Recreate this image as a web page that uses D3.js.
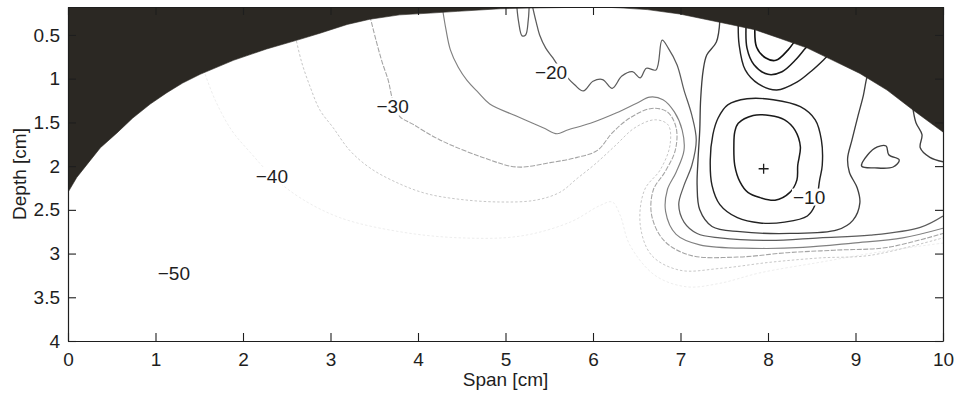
<!DOCTYPE html>
<html>
<head>
<meta charset="utf-8">
<script src="https://cdn.jsdelivr.net/npm/d3@7"></script>
<style>
  body { margin: 0; background: #fff; }
  svg { display: block; font-family: "Liberation Sans", Arial, Helvetica, sans-serif; }
</style>
</head>
<body>
<div id="chart"></div>
<script>
// axis ticks
const spanTicks = [0, 1, 2, 3, 4, 5, 6, 7, 8, 9, 10];
const depthTicks = [0.5, 1, 1.5, 2, 2.5, 3, 3.5, 4];

// edge of the masked (no data) area, [span, depth], left edge to right edge
const maskEdge = [[0,2.30],[0.10,2.13],[0.25,1.94],[0.37,1.79],[0.56,1.62],[0.74,1.45],[0.94,1.29],
  [1.13,1.16],[1.31,1.05],[1.51,0.95],[1.89,0.79],[2.27,0.66],[2.65,0.55],[2.88,0.48],[3.19,0.38],
  [3.45,0.32],[3.79,0.27],[4.14,0.25],[4.45,0.23],[4.94,0.20],[5.39,0.19],[6.08,0.18],[6.31,0.19],
  [6.62,0.21],[6.99,0.26],[7.28,0.32],[7.57,0.38],[7.85,0.44],[8.14,0.54],[8.45,0.65],[8.74,0.79],
  [9.05,0.94],[9.36,1.13],[9.66,1.36],[9.89,1.53],[10,1.61]];

// contour lines, [span, depth]
const loopM5 = [[7.66,1.51],[7.83,1.42],[8.02,1.42],[8.19,1.47],[8.31,1.59],[8.37,1.78],[8.34,1.99],
  [8.33,2.16],[8.25,2.30],[8.08,2.39],[7.91,2.36],[7.77,2.30],[7.68,2.18],[7.62,1.99],[7.61,1.76],[7.62,1.61]];
const loopM10 = [[7.76,1.23],[8.06,1.24],[8.37,1.32],[8.54,1.47],[8.61,1.70],[8.62,1.99],[8.59,2.16],
  [8.54,2.44],[8.45,2.57],[8.19,2.64],[7.91,2.65],[7.65,2.59],[7.45,2.44],[7.36,2.22],[7.34,1.93],
  [7.37,1.64],[7.43,1.45],[7.54,1.30]];
const topM10 = [[7.66,0.36],[7.67,0.61],[7.74,0.90],[7.89,1.06],[8.10,1.13],[8.33,1.04],[8.51,0.90],[8.65,0.77],[8.72,0.70]];
const topM5 = [[7.75,0.38],[7.76,0.65],[7.84,0.84],[8.00,0.95],[8.16,0.92],[8.31,0.79],[8.43,0.65],[8.48,0.60]];
const top0 = [[7.85,0.42],[7.87,0.64],[7.97,0.76],[8.09,0.79],[8.23,0.67],[8.30,0.58],[8.33,0.55]];
const archM15 = [[7.45,0.33],[7.41,0.58],[7.30,0.73],[7.26,0.90],[7.23,1.24],[7.22,1.59],[7.20,1.93],
  [7.19,2.22],[7.22,2.50],[7.36,2.69],[7.68,2.75],[8.25,2.77],[8.79,2.73],[8.97,2.62],[9.05,2.42],
  [9.02,2.25],[8.93,2.07],[8.91,1.91],[8.96,1.70],[9.03,1.42],[9.09,1.19],[9.13,0.99],[9.15,0.95]];
const islandM15 = [[9.07,2.00],[9.14,1.87],[9.25,1.78],[9.35,1.77],[9.38,1.87],[9.50,1.93],[9.43,2.01],[9.22,2.02]];
const edgeM15 = [[9.65,1.30],[9.69,1.50],[9.76,1.64],[9.74,1.79],[9.85,1.90],[10,1.95]];
const lineM20 = [[5.31,0.18],[5.35,0.35],[5.39,0.50],[5.46,0.65],[5.54,0.76],[5.62,0.88],[5.70,0.98],
  [5.79,1.07],[5.89,1.14],[6.00,1.03],[6.11,1.01],[6.22,1.11],[6.33,0.97],[6.45,0.92],[6.54,0.99],
  [6.61,0.88],[6.72,0.90],[6.79,0.56],[6.86,0.65],[6.96,0.84],[7.04,1.13],[7.13,1.42],[7.18,1.70],
  [7.13,1.99],[7.04,2.22],[6.98,2.44],[7.04,2.64],[7.19,2.77],[7.45,2.82],[8.02,2.85],[8.59,2.82],
  [9.17,2.79],[9.74,2.70],[10,2.57]];
const dipM20 = [[5.13,0.18],[5.15,0.35],[5.19,0.51],[5.23,0.50],[5.26,0.33],[5.27,0.18]];
const lineM25 = [[4.28,0.20],[4.32,0.44],[4.37,0.67],[4.46,0.87],[4.56,1.02],[4.69,1.16],[4.82,1.29],
  [5.13,1.43],[5.43,1.56],[5.59,1.63],[5.70,1.59],[5.97,1.51],[6.27,1.39],[6.50,1.28],[6.65,1.21],
  [6.80,1.24],[6.93,1.38],[7.02,1.59],[7.04,1.82],[6.95,2.07],[6.85,2.27],[6.83,2.52],[6.95,2.78],
  [7.22,2.90],[7.83,2.94],[8.40,2.93],[8.97,2.88],[9.54,2.82],[10,2.71]];
const lineM30 = [[3.45,0.28],[3.52,0.56],[3.59,0.81],[3.66,1.02],[3.71,1.24],[3.79,1.43],[3.94,1.52],
  [4.25,1.70],[4.74,1.90],[5.13,2.01],[5.51,1.96],[5.82,1.90],[6.05,1.82],[6.22,1.62],[6.42,1.45],
  [6.67,1.34],[6.85,1.38],[6.95,1.56],[6.94,1.82],[6.82,2.07],[6.69,2.27],[6.67,2.56],[6.81,2.85],
  [7.11,3.02],[7.65,3.04],[8.22,2.99],[8.79,2.96],[9.36,2.93],[10,2.77]];
const lineM35 = [[2.60,0.52],[2.67,0.81],[2.77,1.10],[2.88,1.36],[3.03,1.56],[3.22,1.82],[3.45,2.02],
  [3.74,2.18],[4.08,2.31],[4.48,2.38],[4.94,2.41],[5.34,2.39],[5.62,2.30],[5.82,2.14],[6.02,1.98],
  [6.25,1.77],[6.48,1.56],[6.71,1.47],[6.86,1.53],[6.88,1.76],[6.77,2.04],[6.59,2.27],[6.54,2.67],
  [6.67,3.02],[6.99,3.19],[7.45,3.17],[8.02,3.10],[8.59,3.05],[9.17,3.02],[10,2.82]];
const lineM40 = [[1.55,0.90],[1.68,1.24],[1.87,1.59],[2.08,1.84],[2.33,2.11],[2.65,2.36],[3.11,2.59],
  [3.79,2.75],[4.48,2.82],[5.17,2.80],[5.74,2.64],[6.08,2.45],[6.22,2.41],[6.31,2.56],[6.42,2.90],
  [6.71,3.25],[7.07,3.38],[7.45,3.34],[7.91,3.22],[8.59,3.10],[9.28,2.98],[10,2.88]];

// inline contour labels
const labelLevels = [-10, -20, -30, -40, -50];
const labelSpan = [8.47, 5.52, 3.71, 2.33, 1.21];
const labelDepth = [2.35, 0.92, 1.31, 2.11, 3.22];

// source position marker
const sourcePoint = [7.95, 2.03];

const contours = [
  { level: -40, closed: false, pts: lineM40 },
  { level: -35, closed: false, pts: lineM35 },
  { level: -30, closed: false, pts: lineM30 },
  { level: -25, closed: false, pts: lineM25 },
  { level: -20, closed: false, pts: lineM20 },
  { level: -20, closed: false, pts: dipM20 },
  { level: -15, closed: false, pts: archM15 },
  { level: -15, closed: true, pts: islandM15 },
  { level: -15, closed: false, pts: edgeM15 },
  { level: -10, closed: true, pts: loopM10 },
  { level: -10, closed: false, pts: topM10 },
  { level: -5, closed: false, pts: topM5 },
  { level: 0, closed: false, pts: top0 },
  { level: -5, closed: true, pts: loopM5 }
];

const W = 955, H = 394;
const margin = { top: 7, right: 12, bottom: 53, left: 68 };
const innerW = W - margin.left - margin.right;
const innerH = H - margin.top - margin.bottom;

const x = d3.scaleLinear().domain([0, 10]).range([0, innerW]);
const y = d3.scaleLinear().domain([0.18, 4]).range([0, innerH]);

const strokeColor = d3.scaleLinear()
  .domain([0, -10, -20, -30, -35, -40])
  .range(['#111111', '#222222', '#5c5c5c', '#a4a4a4', '#c6c6c6', '#ebebeb']);
const strokeWidth = d3.scaleLinear().domain([0, -40]).range([1.6, 0.9]);

const svg = d3.select('#chart').append('svg')
  .attr('width', W)
  .attr('height', H);

svg.append('defs').append('clipPath').attr('id', 'plotClip')
  .append('rect').attr('width', innerW).attr('height', innerH);

const g = svg.append('g')
  .attr('transform', 'translate(' + margin.left + ',' + margin.top + ')');

const plot = g.append('g').attr('clip-path', 'url(#plotClip)');

const lineOpen = d3.line()
  .x(d => x(d[0])).y(d => y(d[1]))
  .curve(d3.curveCatmullRom.alpha(0.5));
const lineClosed = d3.line()
  .x(d => x(d[0])).y(d => y(d[1]))
  .curve(d3.curveCatmullRomClosed.alpha(0.5));

plot.selectAll('path.contour')
  .data(contours)
  .join('path')
  .attr('class', 'contour')
  .attr('d', d => (d.closed ? lineClosed : lineOpen)(d.pts))
  .attr('fill', 'none')
  .attr('stroke', d => strokeColor(d.level))
  .attr('stroke-width', d => strokeWidth(d.level))
  .attr('stroke-dasharray', d => d.level <= -35 ? '2.5,2' : (d.level <= -30 ? '5,1.5' : null));

// masked area above the edge
const maskPoly = [[0, 0.18]].concat(maskEdge, [[10, 0.18]]);
plot.append('path')
  .datum(maskPoly)
  .attr('d', d3.line().x(d => x(d[0])).y(d => y(d[1])))
  .attr('fill', '#2b2823')
  .attr('stroke', '#2b2823')
  .attr('stroke-width', 0.6);

// contour labels with the line broken underneath
const lab = plot.selectAll('g.clabel')
  .data(labelLevels.map((v, i) => ({ v: v, s: labelSpan[i], d: labelDepth[i] })))
  .join('g')
  .attr('class', 'clabel')
  .attr('transform', d => 'translate(' + x(d.s) + ',' + y(d.d) + ')');
lab.append('text')
  .attr('text-anchor', 'middle')
  .attr('dy', '0.36em')
  .attr('font-size', 19)
  .attr('fill', '#1e1e1e')
  .text(d => '\u2212' + Math.abs(d.v));
lab.each(function () {
  const t = d3.select(this).select('text');
  const b = t.node().getBBox();
  d3.select(this).insert('rect', 'text')
    .attr('x', b.x - 1).attr('y', b.y + 2)
    .attr('width', b.width + 2).attr('height', b.height - 4)
    .attr('fill', '#fff');
});

// source marker
const sx = x(sourcePoint[0]), sy = y(sourcePoint[1]);
plot.append('path')
  .attr('d', 'M' + (sx - 5) + ',' + sy + 'H' + (sx + 5) + 'M' + sx + ',' + (sy - 5) + 'V' + (sy + 5))
  .attr('stroke', '#1e1e1e')
  .attr('stroke-width', 1.3);

// axes, ticks pointing inward on all four sides
function styleAxis(sel) {
  sel.selectAll('path.domain').attr('stroke', '#1e1e1e').attr('stroke-width', 1.2);
  sel.selectAll('.tick line').attr('stroke', '#1e1e1e').attr('stroke-width', 1.1);
  sel.selectAll('.tick text').attr('fill', '#1e1e1e').attr('font-size', 19)
    .attr('font-family', '"Liberation Sans", Arial, Helvetica, sans-serif');
}

g.append('g')
  .attr('transform', 'translate(0,' + innerH + ')')
  .call(d3.axisBottom(x).tickValues(spanTicks).tickSizeInner(-8).tickSizeOuter(0).tickPadding(12))
  .call(styleAxis);
g.append('g')
  .call(d3.axisTop(x).tickValues(spanTicks).tickSizeInner(-8).tickSizeOuter(0).tickFormat(''))
  .call(styleAxis);
g.append('g')
  .call(d3.axisLeft(y).tickValues(depthTicks).tickSizeInner(-8).tickSizeOuter(0).tickPadding(8)
    .tickFormat(d3.format('')))
  .call(styleAxis);
g.append('g')
  .attr('transform', 'translate(' + innerW + ',0)')
  .call(d3.axisRight(y).tickValues(depthTicks).tickSizeInner(-8).tickSizeOuter(0).tickFormat(''))
  .call(styleAxis);

// axis titles
svg.append('text')
  .attr('x', margin.left + innerW / 2)
  .attr('y', 386)
  .attr('text-anchor', 'middle')
  .attr('font-size', 19)
  .attr('fill', '#1e1e1e')
  .text('Span [cm]');
svg.append('text')
  .attr('transform', 'translate(26,' + (margin.top + innerH / 2) + ') rotate(-90)')
  .attr('text-anchor', 'middle')
  .attr('font-size', 19)
  .attr('fill', '#1e1e1e')
  .text('Depth [cm]');
</script>
</body>
</html>
